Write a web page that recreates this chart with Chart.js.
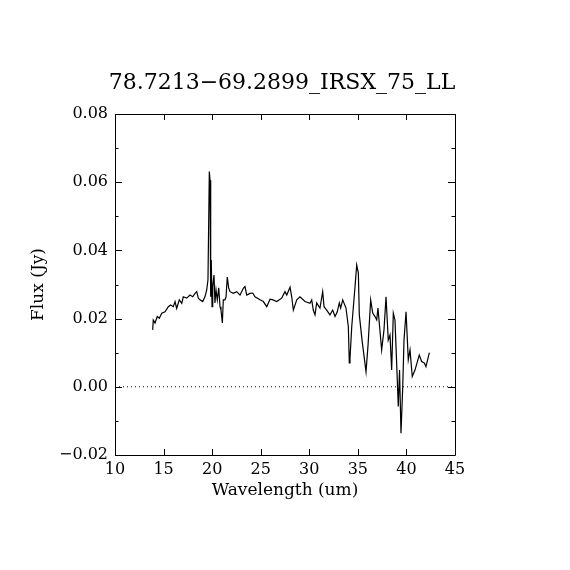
<!DOCTYPE html>
<html>
<head>
<meta charset="utf-8">
<script src="https://cdn.jsdelivr.net/npm/chart.js@4.4.1/dist/chart.umd.min.js"></script>
<style>
  html, body { margin: 0; padding: 0; background: #fff; }
  canvas { display: block; }
</style>
</head>
<body>
<canvas id="chart" width="570" height="570"></canvas>
<script>
const chartTitle = '78.7213\u221269.2899_IRSX_75_LL';

// spectrum (um, Jy)
const wavelength = [
  13.88, 13.94, 14.12, 14.35, 14.56, 14.81, 15.15, 15.49, 15.73, 16.00,
  16.18, 16.35, 16.62, 16.87, 17.03, 17.38, 17.72, 18.00, 18.24, 18.41,
  18.58, 18.75, 19.03, 19.26, 19.44, 19.57, 19.71, 19.78, 19.85, 19.91,
  19.99, 20.06, 20.19, 20.29, 20.40, 20.53, 20.68, 20.81, 20.91, 21.05,
  21.15, 21.32, 21.43, 21.56, 21.70, 21.84, 22.18, 22.53, 22.87, 23.21,
  23.38, 23.56, 23.90, 24.18, 24.41, 24.93, 25.27, 25.62, 25.96, 26.26,
  26.65, 27.16, 27.50, 27.68, 28.02, 28.19, 28.36, 28.71, 29.04, 29.56,
  30.07, 30.25, 30.41, 30.59, 30.76, 31.10, 31.38, 31.52, 31.79, 32.13,
  32.41, 32.65, 32.88, 33.09, 33.23, 33.44, 33.78, 34.02, 34.12, 34.19,
  34.37, 34.71, 34.88, 35.05, 35.15, 35.43, 35.84, 36.05, 36.32, 36.53,
  36.77, 36.94, 37.07, 37.45, 37.69, 37.90, 38.13, 38.31, 38.48, 38.65,
  38.82, 38.98, 39.16, 39.29, 39.44, 39.62, 39.75, 39.96, 40.19, 40.37,
  40.60, 40.88, 41.32, 41.57, 41.84, 42.01, 42.36
];
const flux = [
  0.0167, 0.0196, 0.0187, 0.0206, 0.0201, 0.0216, 0.0220, 0.0235, 0.0240, 0.0235,
  0.0250, 0.0230, 0.0255, 0.0245, 0.0264, 0.0260, 0.0269, 0.0264, 0.0274, 0.0279,
  0.0260, 0.0255, 0.0250, 0.0264, 0.0284, 0.0313, 0.0631, 0.0606, 0.0264, 0.0372,
  0.0235, 0.0294, 0.0328, 0.0246, 0.0284, 0.0255, 0.0290, 0.0235, 0.0225, 0.0187,
  0.0255, 0.0255, 0.0264, 0.0322, 0.0290, 0.0279, 0.0274, 0.0279, 0.0269, 0.0289,
  0.0294, 0.0269, 0.0274, 0.0275, 0.0264, 0.0255, 0.0250, 0.0235, 0.0257, 0.0255,
  0.0250, 0.0260, 0.0279, 0.0269, 0.0292, 0.0264, 0.0225, 0.0255, 0.0264, 0.0250,
  0.0245, 0.0255, 0.0225, 0.0211, 0.0246, 0.0231, 0.0279, 0.0235, 0.0225, 0.0211,
  0.0225, 0.0206, 0.0220, 0.0246, 0.0231, 0.0255, 0.0231, 0.0176, 0.0070, 0.0084,
  0.0176, 0.0294, 0.0357, 0.0334, 0.0211, 0.0137, 0.0044, 0.0123, 0.0255, 0.0216,
  0.0206, 0.0196, 0.0231, 0.0108, 0.0167, 0.0264, 0.0137, 0.0152, 0.0049, 0.0216,
  0.0196, 0.0079, -0.0058, 0.0049, -0.0136, 0.0000, 0.0137, 0.0220, 0.0079, 0.0108,
  0.0030, 0.0049, 0.0093, 0.0074, 0.0070, 0.0059, 0.0100
];

const xTicks = [10, 15, 20, 25, 30, 35, 40, 45];
const yTicks = [-0.02, 0.00, 0.02, 0.04, 0.06, 0.08];
const yMinorTicks = [-0.01, 0.01, 0.03, 0.05, 0.07];
const zeroLine = [10, 45];

const serif = '"DejaVu Serif", "Liberation Serif", serif';
Chart.defaults.color = '#000';
Chart.defaults.font.family = serif;

// frame, inward ticks on all four sides and the title
const pgFrame = {
  id: 'pgFrame',
  afterDraw(chart) {
    const {ctx, chartArea: a, scales: {x, y}} = chart;
    ctx.save();
    ctx.strokeStyle = '#000';
    ctx.lineWidth = 1;
    ctx.beginPath();
    ctx.rect(a.left + 0.5, a.top + 0.5, a.right - a.left, a.bottom - a.top);
    xTicks.forEach(v => {
      const px = Math.round(x.getPixelForValue(v)) + 0.5;
      ctx.moveTo(px, a.bottom); ctx.lineTo(px, a.bottom - 6);
      ctx.moveTo(px, a.top); ctx.lineTo(px, a.top + 6);
    });
    const tick = (v, len) => {
      const py = Math.round(y.getPixelForValue(v)) + 0.5;
      ctx.moveTo(a.left, py); ctx.lineTo(a.left + len, py);
      ctx.moveTo(a.right, py); ctx.lineTo(a.right - len, py);
    };
    yTicks.forEach(v => tick(v, 7));
    yMinorTicks.forEach(v => tick(v, 3.5));
    ctx.stroke();

    ctx.fillStyle = '#000';
    ctx.font = '22px ' + serif;
    ctx.textAlign = 'center';
    ctx.textBaseline = 'alphabetic';
    ctx.fillText(chartTitle, 282, 89);
    ctx.restore();
  }
};

new Chart(document.getElementById('chart'), {
  type: 'scatter',
  data: {
    datasets: [{
      data: wavelength.map((w, i) => ({x: w, y: flux[i]})),
      showLine: true,
      borderColor: '#000',
      borderWidth: 1.2,
      pointRadius: 0,
      tension: 0
    }, {
      data: zeroLine.map(w => ({x: w, y: 0})),
      showLine: true,
      borderColor: '#000',
      borderWidth: 1,
      borderDash: [1, 3],
      pointRadius: 0
    }]
  },
  options: {
    responsive: false,
    animation: false,
    devicePixelRatio: 1,
    layout: {padding: {top: 114, right: 115, left: 0, bottom: 0}},
    plugins: {
      legend: {display: false},
      title: {display: false},
      tooltip: {enabled: false}
    },
    scales: {
      x: {
        type: 'linear',
        min: 10, max: 45,
        afterFit: s => { s.height = 115; },
        afterBuildTicks: s => { s.ticks = xTicks.map(v => ({value: v})); },
        grid: {display: false, drawTicks: false},
        border: {display: false},
        ticks: {padding: 5, font: {size: 16}, maxRotation: 0},
        title: {display: true, text: 'Wavelength (um)', font: {size: 17}, padding: {bottom: 69}}
      },
      y: {
        type: 'linear',
        min: -0.02, max: 0.08,
        afterFit: s => { s.width = 115; },
        afterBuildTicks: s => { s.ticks = yTicks.map(v => ({value: v})); },
        grid: {display: false, drawTicks: false},
        border: {display: false},
        ticks: {
          padding: 7,
          font: {size: 16},
          callback: v => v.toFixed(2).replace('-', '\u2212')
        },
        title: {display: true, text: 'Flux (Jy)', font: {size: 17}, padding: {top: 28}}
      }
    }
  },
  plugins: [pgFrame]
});
</script>
</body>
</html>
